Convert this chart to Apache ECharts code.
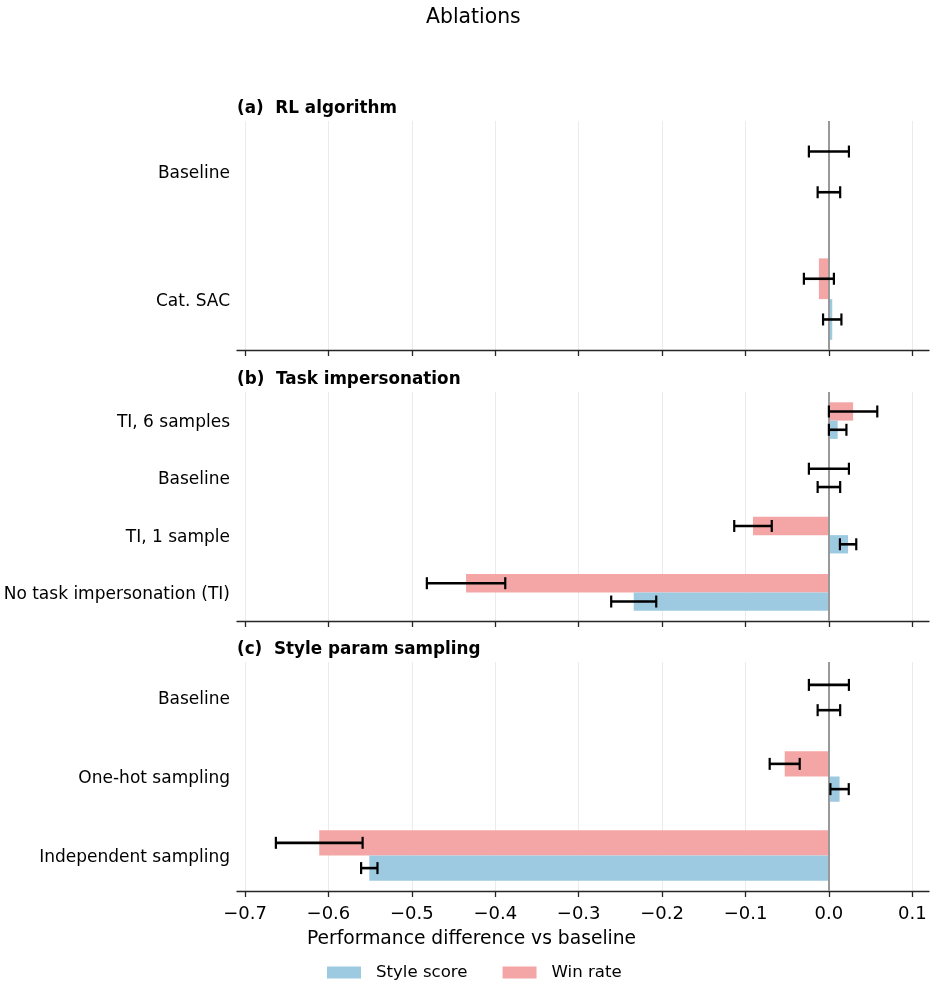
<!DOCTYPE html>
<html>
<head>
<meta charset="utf-8">
<script src="https://cdn.jsdelivr.net/npm/echarts@6/dist/echarts.min.js"></script>
<style>
  html, body { margin: 0; padding: 0; background: #fff; }
  #main { width: 937px; height: 988px; }
</style>
</head>
<body>
<div id="main"></div>
<script>
// panel (a) RL algorithm
var catsA = ['Baseline', 'Cat. SAC'];
var winA = [0, -0.012];
var winErrA = [0.024, 0.018];
var styleA = [0, 0.004];
var styleErrA = [0.0135, 0.011];

// panel (b) Task impersonation
var catsB = ['TI, 6 samples', 'Baseline', 'TI, 1 sample', 'No task impersonation (TI)'];
var winB = [0.029, 0, -0.091, -0.435];
var winErrB = [0.029, 0.024, 0.0225, 0.047];
var styleB = [0.0105, 0, 0.023, -0.234];
var styleErrB = [0.0105, 0.0135, 0.0098, 0.027];

// panel (c) Style param sampling
var catsC = ['Baseline', 'One-hot sampling', 'Independent sampling'];
var winC = [0, -0.053, -0.611];
var winErrC = [0.024, 0.018, 0.052];
var styleC = [0, 0.0128, -0.551];
var styleErrC = [0.0135, 0.011, 0.0098];

var xTicks = [-0.7, -0.6, -0.5, -0.4, -0.3, -0.2, -0.1, 0.0, 0.1];

var panelTitles = ['(a)  RL algorithm', '(b)  Task impersonation', '(c)  Style param sampling'];

var FONT = 'DejaVu Sans';
var FS = 17;
var BLUE = '#9ecae1';
var PINK = '#f4a6a6';
var BAR_H = 0.32;
var OFF = 0.16;

var panels = [
  {cats: catsA, win: winA, winErr: winErrA, style: styleA, styleErr: styleErrA, top: 121, ymin: -0.4, ymax: 1.4},
  {cats: catsB, win: winB, winErr: winErrB, style: styleB, styleErr: styleErrB, top: 392, ymin: -0.5, ymax: 3.5},
  {cats: catsC, win: winC, winErr: winErrC, style: styleC, styleErr: styleErrC, top: 662, ymin: -0.45, ymax: 2.45}
];

function barItem(params, api) {
  var val = api.value(0);
  var pos = api.value(1);
  var p0 = api.coord([0, pos]);
  var p1 = api.coord([val, pos]);
  var h = Math.abs(api.size([0, BAR_H])[1]);
  return {
    type: 'rect',
    shape: {x: Math.min(p0[0], p1[0]), y: p0[1] - h / 2, width: Math.abs(p1[0] - p0[0]), height: h},
    style: {fill: api.visual('color')}
  };
}

function errItem(params, api) {
  var val = api.value(0);
  var pos = api.value(1);
  var err = api.value(2);
  var lo = api.coord([val - err, pos]);
  var hi = api.coord([val + err, pos]);
  var cap = 6;
  var st = {stroke: '#000', lineWidth: 2.6};
  return {
    type: 'group',
    children: [
      {type: 'line', shape: {x1: lo[0], y1: lo[1], x2: hi[0], y2: hi[1]}, style: st},
      {type: 'line', shape: {x1: lo[0], y1: lo[1] - cap, x2: lo[0], y2: lo[1] + cap}, style: {stroke: '#000', lineWidth: 2.2}},
      {type: 'line', shape: {x1: hi[0], y1: hi[1] - cap, x2: hi[0], y2: hi[1] + cap}, style: {stroke: '#000', lineWidth: 2.2}}
    ]
  };
}

var grids = [], xAxes = [], yAxes = [], series = [];
var titles = [
  {text: 'Ablations', left: 426, top: 8, padding: 0,
   textStyle: {fontFamily: FONT, fontSize: 20.4, fontWeight: 'normal', color: '#000'}},
  {text: 'Performance difference vs baseline', left: 307, top: 930, padding: 0,
   textStyle: {fontFamily: FONT, fontSize: 18.7, fontWeight: 'normal', color: '#000'}}
];

panels.forEach(function (p, i) {
  grids.push({left: 237, right: 8, top: p.top, height: 229});
  titles.push({
    text: panelTitles[i], left: 237, top: p.top - 21, padding: 0,
    textStyle: {fontFamily: FONT, fontSize: 16.8, fontWeight: 'bold', color: '#000'}
  });
  xAxes.push({
    type: 'value', gridIndex: i, min: -0.7096, max: 0.12,
    axisLine: {show: true, onZero: false, lineStyle: {color: '#262626', width: 1.3}},
    axisTick: {show: true, length: 6, customValues: xTicks, lineStyle: {color: '#262626', width: 1.3}},
    axisLabel: {
      show: i === 2, customValues: xTicks, margin: 14,
      fontFamily: FONT, fontSize: 18, color: '#000',
      formatter: function (v) { return (v < 0 ? '\u2212' : '') + Math.abs(v).toFixed(1); }
    },
    splitLine: {show: true, lineStyle: {color: '#ebebeb', width: 1}}
  });
  var cats = p.cats;
  var idx = cats.map(function (c, k) { return k; });
  yAxes.push({
    type: 'value', gridIndex: i, inverse: true, min: p.ymin, max: p.ymax,
    axisLine: {show: false}, axisTick: {show: false}, splitLine: {show: false},
    axisLabel: {
      customValues: idx, margin: 7,
      fontFamily: FONT, fontSize: FS, color: '#000',
      formatter: function (v) { return '{c|' + cats[Math.round(v)] + '}'; },
      rich: {c: {fontFamily: FONT, fontSize: FS, color: '#000', padding: [4, 0, 0, 0]}}
    }
  });
  var winData = p.win.map(function (v, k) { return [v, k - OFF, p.winErr[k]]; });
  var styleData = p.style.map(function (v, k) { return [v, k + OFF, p.styleErr[k]]; });
  series.push({
    name: 'Win rate', type: 'custom', xAxisIndex: i, yAxisIndex: i,
    itemStyle: {color: PINK}, renderItem: barItem, data: winData,
    encode: {x: 0, y: 1}, z: 2
  });
  series.push({
    name: 'Style score', type: 'custom', xAxisIndex: i, yAxisIndex: i,
    itemStyle: {color: BLUE}, renderItem: barItem, data: styleData,
    encode: {x: 0, y: 1}, z: 2,
    markLine: {
      silent: true, symbol: 'none', animation: false,
      label: {show: false},
      lineStyle: {color: '#999999', width: 2, type: 'solid'},
      data: [{xAxis: 0}]
    }
  });
  series.push({
    name: 'Win rate', type: 'custom', xAxisIndex: i, yAxisIndex: i,
    itemStyle: {color: PINK}, renderItem: errItem, data: winData,
    encode: {x: 0, y: 1}, z: 5
  });
  series.push({
    name: 'Style score', type: 'custom', xAxisIndex: i, yAxisIndex: i,
    itemStyle: {color: BLUE}, renderItem: errItem, data: styleData,
    encode: {x: 0, y: 1}, z: 5
  });
});

var chart = echarts.init(document.getElementById('main'));
chart.setOption({
  animation: false,
  title: titles,
  grid: grids,
  xAxis: xAxes,
  yAxis: yAxes,
  legend: {
    data: [{name: 'Style score', icon: 'rect'}, {name: 'Win rate', icon: 'rect'}],
    left: 327, top: 964, padding: 0, itemWidth: 34, itemHeight: 12, itemGap: 35,
    selectedMode: false,
    textStyle: {fontFamily: FONT, fontSize: 16.6, color: '#000', padding: [0, 0, 0, 10]}
  },
  series: series
});
</script>
</body>
</html>
